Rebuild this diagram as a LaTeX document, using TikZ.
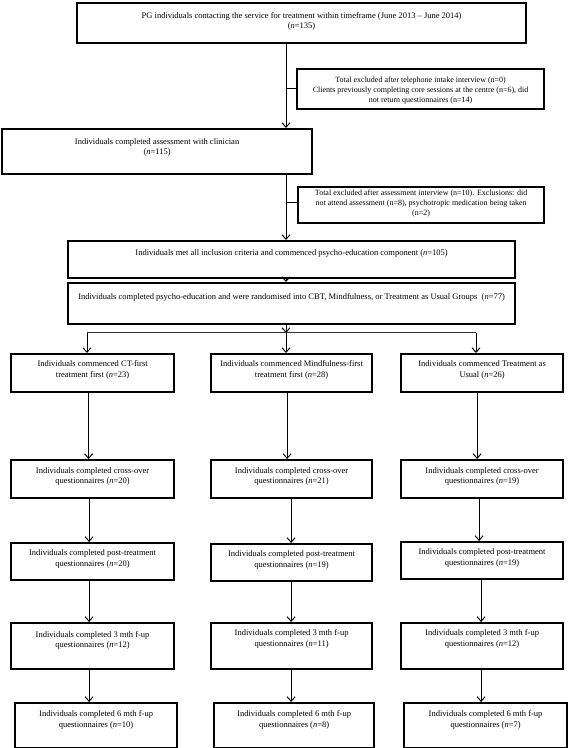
\documentclass[tikz,border=0pt]{standalone}
\usepackage{fontspec}
\setmainfont{Liberation Serif}
\usetikzlibrary{arrows.meta}
\newcommand{\bt}[4]{\parbox[c][#2][t]{#1}{\vspace*{#3}\centering #4\par}}
\begin{document}
\begin{tikzpicture}[x=1pt,y=-1pt,
  boxst/.style={draw, line width=2.2pt, inner sep=0pt, anchor=north west, font=\fontsize{8.5}{10.8}\selectfont},
  exbox/.style={boxst, font=\fontsize{8}{10.3}\selectfont},
  arr/.style={line width=1pt, -{Straight Barb[length=4.5pt,width=8pt,line width=1pt]}},
  ln/.style={line width=1pt},
  dln/.style={draw=black!80, double, double distance=0.7pt, line width=0.45pt}]
\useasboundingbox (0,0) rectangle (568,748);
% top flow
\node[boxst] (b1) at (76,2) {\bt{449pt}{40pt}{9pt}{PG individuals contacting the service for treatment within timeframe (June 2013 -- June 2014)\\(\textit{n}=135)}};
\node[exbox] (e1) at (296,68) {\bt{247pt}{40pt}{7.5pt}{Total excluded after telephone intake interview (n=0)\\Clients previously completing core sessions at the centre (n=6), did\\not return questionnaires (n=14)}};
\node[boxst] (b2) at (1,128) {\bt{310pt}{45pt}{9pt}{Individuals completed assessment with clinician\\(\textit{n}=115)}};
\node[exbox] (e2) at (297,186) {\bt{246pt}{36pt}{2.5pt}{Total excluded after assessment interview (n=10). Exclusions: did\\not attend assessment (n=8), psychotropic medication being taken\\(n=2)}};
\node[boxst] (b3) at (67,240) {\bt{447pt}{37pt}{8.5pt}{Individuals met all inclusion criteria and commenced psycho-education component (\textit{n}=105)}};
\node[boxst] (b4) at (67,282) {\bt{447pt}{41pt}{10.5pt}{Individuals completed psycho-education and were randomised into CBT, Mindfulness, or Treatment as Usual Groups\ \ (\textit{n}=77)}};
% row 1
\node[boxst] (r1a) at (10,353) {\bt{163pt}{38pt}{6.5pt}{Individuals commenced CT-first\\treatment first (\textit{n}=23)}};
\node[boxst] (r1b) at (210,353) {\bt{161pt}{38pt}{6.5pt}{Individuals commenced Mindfulness-first\\treatment first (\textit{n}=28)}};
\node[boxst] (r1c) at (400,353) {\bt{162pt}{38pt}{6.5pt}{Individuals commenced Treatment as\\Usual (\textit{n}=26)}};
% row 2
\node[boxst] (r2a) at (10,459) {\bt{163pt}{38pt}{7pt}{Individuals completed cross-over\\questionnaires (\textit{n}=20)}};
\node[boxst] (r2b) at (210,459) {\bt{161pt}{38pt}{7pt}{Individuals completed cross-over\\questionnaires (\textit{n}=21)}};
\node[boxst] (r2c) at (400,459) {\bt{162pt}{38pt}{7pt}{Individuals completed cross-over\\questionnaires (\textit{n}=19)}};
% row 3
\node[boxst] (r3a) at (10,542) {\bt{163pt}{37pt}{6.5pt}{Individuals completed post-treatment\\questionnaires (\textit{n}=20)}};
\node[boxst] (r3b) at (210,543) {\bt{161pt}{37pt}{6.5pt}{Individuals completed post-treatment\\questionnaires (\textit{n}=19)}};
\node[boxst] (r3c) at (400,541) {\bt{162pt}{37pt}{6.5pt}{Individuals completed post-treatment\\questionnaires (\textit{n}=19)}};
% row 4
\node[boxst] (r4a) at (10,622) {\bt{163pt}{46pt}{8pt}{Individuals completed 3 mth f-up\\questionnaires (\textit{n}=12)}};
\node[boxst] (r4b) at (210,622) {\bt{161pt}{46pt}{6.5pt}{Individuals completed 3 mth f-up\\questionnaires (\textit{n}=11)}};
\node[boxst] (r4c) at (400,622) {\bt{162pt}{46pt}{6.5pt}{Individuals completed 3 mth f-up\\questionnaires (\textit{n}=12)}};
% row 5
\node[boxst] (r5a) at (14,702) {\bt{162pt}{45pt}{7.5pt}{Individuals completed 6 mth f-up\\questionnaires (\textit{n}=10)}};
\node[boxst] (r5b) at (213,702) {\bt{160pt}{45pt}{7.5pt}{Individuals completed 6 mth f-up\\questionnaires (\textit{n}=8)}};
\node[boxst] (r5c) at (403,702) {\bt{163pt}{45pt}{7.5pt}{Individuals completed 6 mth f-up\\questionnaires (\textit{n}=7)}};
% connectors, top
\coordinate (j1) at (286,88);
\coordinate (j2) at (286,202);
\draw[arr] (b1.south -| j1) -- (b2.north -| j1);
\draw[ln] (j1) -- (e1.west |- j1);
\draw[arr] (b2.south -| j2) -- (b3.north -| j2);
\draw[ln] (j2) -- (e2.west |- j2);
\draw[arr] (b3.south -| j2) -- (b4.north -| j2);
% branching
\coordinate (hm) at (286,333);
\coordinate (hl) at (87,333);
\coordinate (hr) at (476,333);
\draw[arr] (b4.south -| hm) -- (hm);
\draw[dln] (hl) -- (hr);
\draw[arr] (hl) -- (r1a.north -| hl);
\draw[arr] (hm) -- (r1b.north -| hm);
\draw[arr] (hr) -- (r1c.north -| hr);
% column 1
\draw[arr] ([xshift=-4pt]r1a.south) -- ([xshift=-4pt]r2a.north);
\draw[arr] ([xshift=-3.5pt]r2a.south) -- ([xshift=-3.5pt]r3a.north);
\draw[arr] ([xshift=-3.5pt]r3a.south) -- ([xshift=-3.5pt]r4a.north);
\draw[arr] ([xshift=-3.5pt]r4a.south) -- ([xshift=-3.5pt]r4a.south |- r5a.north);
% column 2
\draw[arr] ([xshift=-4.5pt]r1b.south) -- ([xshift=-4.5pt]r2b.north);
\draw[arr] ([xshift=-0.5pt]r2b.south) -- ([xshift=-0.5pt]r3b.north);
\draw[arr] ([xshift=-0.5pt]r3b.south) -- ([xshift=-0.5pt]r4b.north);
\draw[arr] ([xshift=-0.5pt]r4b.south) -- ([xshift=-0.5pt]r4b.south |- r5b.north);
% column 3
\draw[arr] ([xshift=-5pt]r1c.south) -- ([xshift=-5pt]r2c.north);
\draw[arr] ([xshift=-3pt]r2c.south) -- ([xshift=-3pt]r3c.north);
\draw[arr] ([xshift=-1pt]r3c.south) -- ([xshift=-1pt]r4c.north);
\draw[arr] ([xshift=-1pt]r4c.south) -- ([xshift=-1pt]r4c.south |- r5c.north);
\end{tikzpicture}
\end{document}
